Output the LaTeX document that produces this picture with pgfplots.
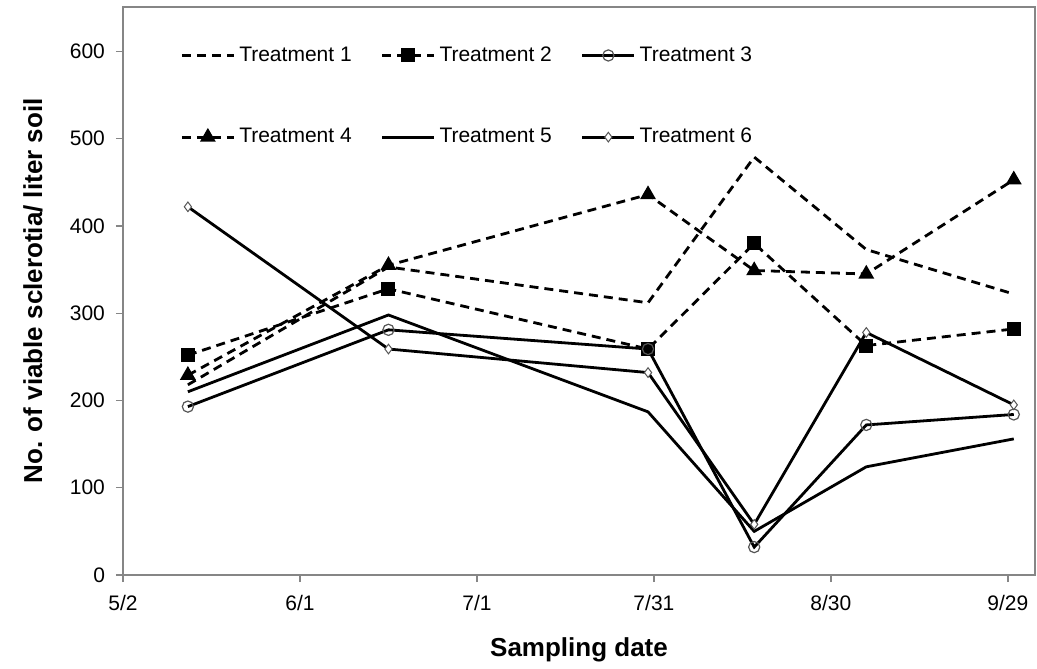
\documentclass[border=0pt]{standalone}
\usepackage{fontspec}
\setmainfont{Liberation Sans}
\usepackage{pgfplots}
\pgfplotsset{compat=1.18}

\definecolor{axgray}{HTML}{868686}
\definecolor{mkgray}{HTML}{555555}

\begin{document}
\begin{tikzpicture}
\begin{axis}[
  scale only axis, width=456pt, height=284pt,
  xmin=0, xmax=154.6, ymin=0, ymax=651,
  xtick={0,30,60,90,120,150},
  xticklabels={5/2,6/1,7/1,7/31,8/30,9/29},
  ytick={0,100,...,600},
  axis line style={axgray, line width=0.7pt},
  tick style={axgray, line width=0.7pt},
  tick align=outside, xtick pos=bottom, ytick pos=left,
  major tick length=3.5pt,
  ticklabel style={font=\fontsize{10.5}{12}\selectfont},
  xticklabel style={yshift=-3pt},
  yticklabel style={xshift=-2pt},
  /pgf/number format/assume math mode=true,
  xlabel={Sampling date},
  ylabel={No. of viable sclerotia/ liter soil},
  every axis x label/.style={at={(axis description cs:0.5,0)}, anchor=center, yshift=-37.5pt},
  every axis y label/.style={at={(axis description cs:-0.0987,0.5)}, rotate=90, anchor=center},
  label style={font=\fontsize{13}{15}\selectfont\bfseries},
  legend style={draw=none, fill=none, at={(rel axis cs:0.056,0.945)}, anchor=north west,
    font=\fontsize{10.5}{12}\selectfont, row sep=28pt,
    nodes={inner xsep=2pt},
    /tikz/every even column/.append style={column sep=12.5pt}},
  legend columns=3,
  legend cell align=left,
  legend image code/.code={\draw[mark repeat=2,mark phase=2,#1] plot coordinates {(0pt,0pt) (13pt,0pt) (26pt,0pt)};},
  every axis plot/.append style={line width=1.4pt, black},
  dsh/.style={dash pattern=on 4.5pt off 3pt},
]
% Treatment 1
\addplot[dsh] coordinates {(11,218) (45,353) (89,312) (107,479) (126,373) (151,322)};
\addlegendentry{Treatment 1}
% Treatment 2
\addplot[dsh, mark=square*, mark size=2.8pt, mark options={solid}] coordinates {(11,252) (45,328) (89,259) (107,380) (126,263) (151,282)};
\addlegendentry{Treatment 2}
% Treatment 3
\addplot[mark=o, mark size=2.8pt, mark options={mkgray, fill=white, line width=0.6pt}] coordinates {(11,193) (45,281) (89,259) (107,32) (126,172) (151,184)};
\addlegendentry{Treatment 3}
% Treatment 4
\addplot[dsh, mark=triangle*, mark size=3.2pt, mark options={solid}] coordinates {(11,229) (45,355) (89,436) (107,349) (126,345) (151,453)};
\addlegendentry{Treatment 4}
% Treatment 5
\addplot[no marks] coordinates {(11,210) (45,298) (89,187) (107,50) (126,124) (151,156)};
\addlegendentry{Treatment 5}
% Treatment 6
\addplot[mark=diamond*, mark size=2.4pt, mark options={mkgray, fill=white, line width=0.5pt}] coordinates {(11,422) (45,259) (89,232) (107,58) (126,278) (151,195)};
\addlegendentry{Treatment 6}
\end{axis}
\path (current axis.south west) ++(-61.5pt,-46.5pt) rectangle ([shift={(1pt,3.5pt)}]current axis.north east);
\end{tikzpicture}
\end{document}
